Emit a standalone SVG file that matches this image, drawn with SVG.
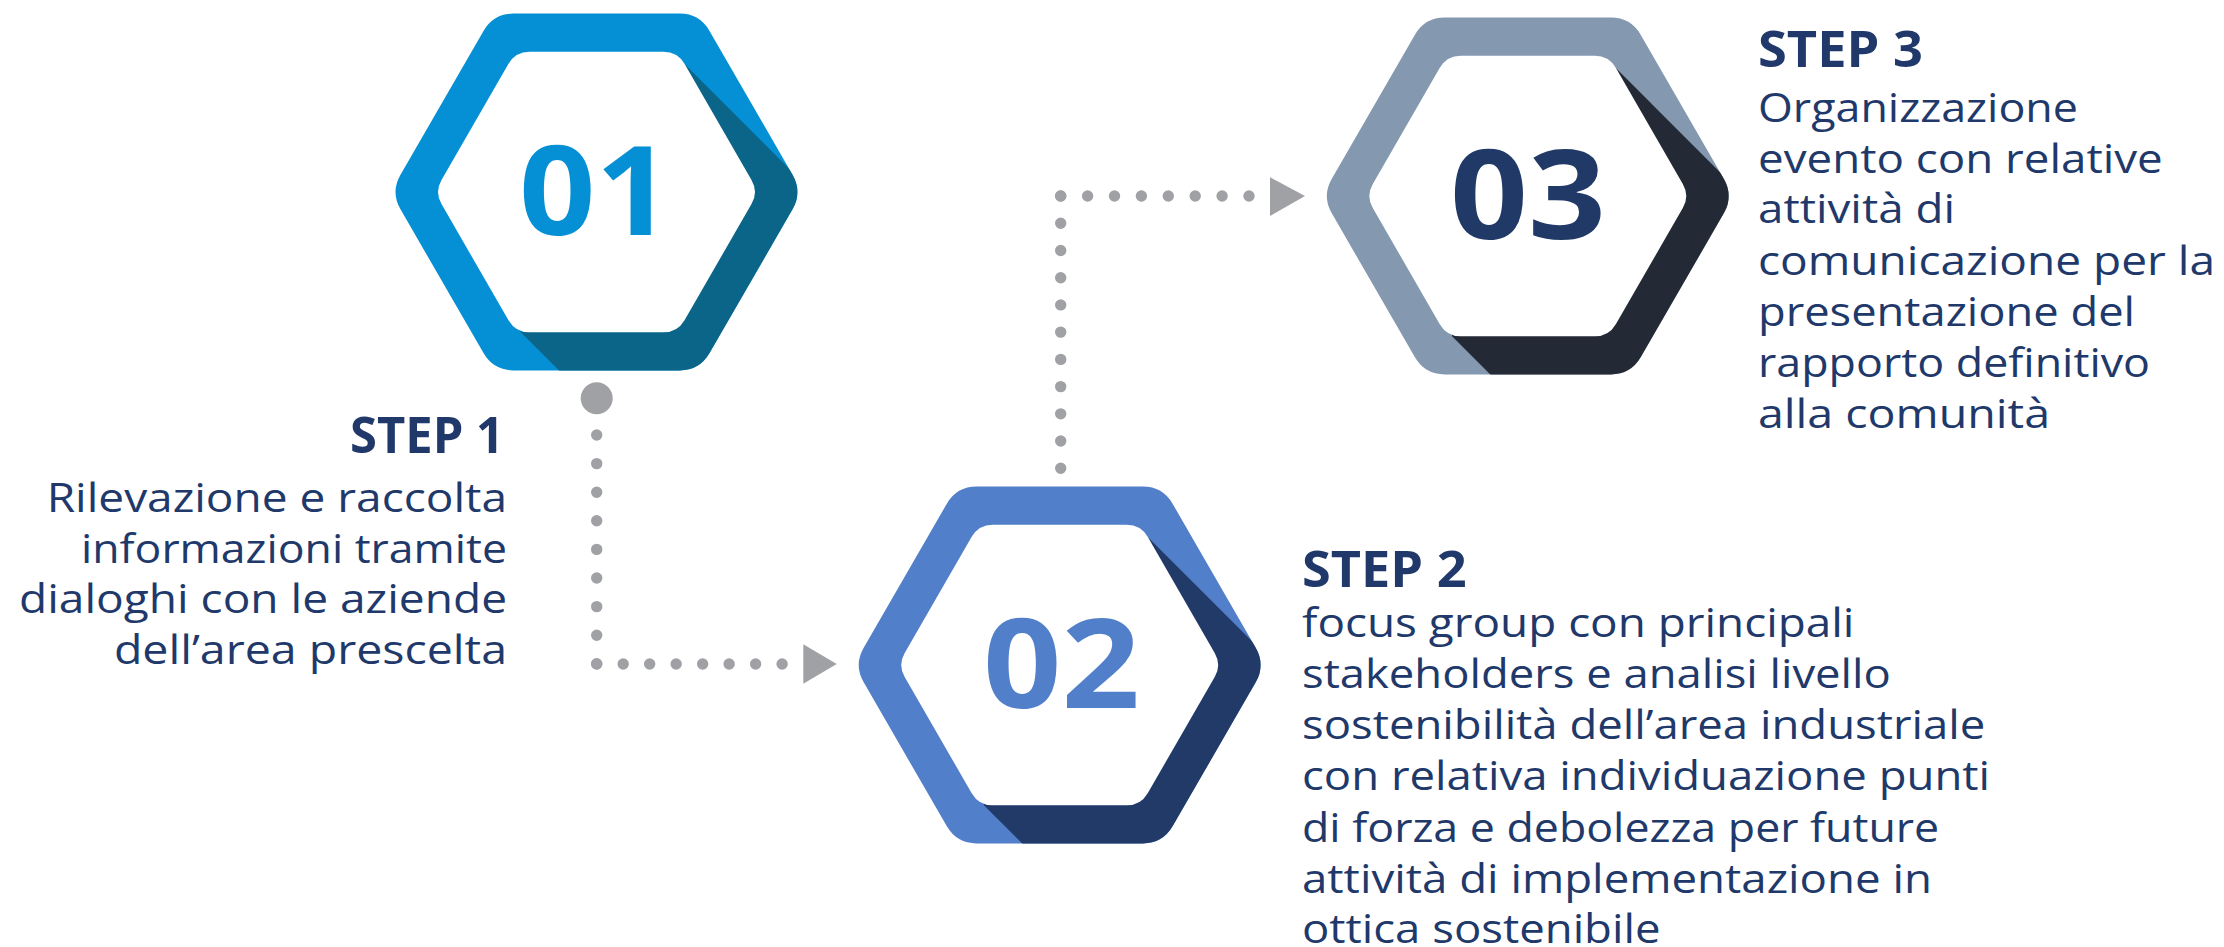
<svg xmlns="http://www.w3.org/2000/svg" xmlns:xlink="http://www.w3.org/1999/xlink" width="2224" height="947" viewBox="0 0 2224 947">
<style>
.step{font-family:"Open Sans","Liberation Sans",sans-serif;font-weight:700;font-size:51px;fill:#21396A}
.body{font-family:"Open Sans","Liberation Sans",sans-serif;font-weight:400;font-size:40px;fill:#21396A}
.num{font-family:"Open Sans","Liberation Sans",sans-serif;font-weight:700;font-size:124px}
.dots{fill:none;stroke:#A0A1A5;stroke-width:11.4;stroke-linecap:round}
.arrow{fill:#A0A1A5}
</style>
<defs>
<path id="hexOuter" d="M196,-17.32 Q206,0 196,17.32 L113,161.08 Q103,178.4 83,178.4 L-83,178.4 Q-103,178.4 -113,161.08 L-196,17.32 Q-206,0 -196,-17.32 L-113,-161.08 Q-103,-178.4 -83,-178.4 L83,-178.4 Q103,-178.4 113,-161.08 Z"/>
<path id="hexInner" d="M155,-12.12 Q162,0 155,12.12 L88,128.18 Q81,140.3 67,140.3 L-67,140.3 Q-81,140.3 -88,128.18 L-155,12.12 Q-162,0 -155,-12.12 L-88,-128.18 Q-81,-140.3 -67,-140.3 L67,-140.3 Q81,-140.3 88,-128.18 Z"/>
<polygon id="shadow" points="86,-130 486,270 324,540 -76,140 0,0"/>
<clipPath id="clipOuter"><use xlink:href="#hexOuter"/></clipPath>
</defs>
<rect width="2224" height="947" fill="#fff"/>

<g id="connectors">
<circle cx="596.7" cy="398.3" r="16" fill="#A0A1A5"/>
<line class="dots" x1="596.7" y1="435" x2="596.7" y2="664.3" style="stroke-dasharray:0 28.6"/>
<line class="dots" x1="596.7" y1="664" x2="782.6" y2="664" style="stroke-dasharray:0 26.486"/>
<polygon class="arrow" points="803.3,644.3 836.7,664 803.3,683.7"/>
<line class="dots" x1="1060.7" y1="468.3" x2="1060.7" y2="195.5" style="stroke-dasharray:0 27.23"/>
<line class="dots" x1="1060.7" y1="196" x2="1249.5" y2="196" style="stroke-dasharray:0 26.9"/>
<polygon class="arrow" points="1270,177.3 1305,196 1270,216"/>
</g>

<g id="node-01" transform="translate(596.5,192)">
<use xlink:href="#hexOuter" fill="#0590D5"/>
<use xlink:href="#shadow" fill="#0A6588" clip-path="url(#clipOuter)"/>
<use xlink:href="#hexInner" fill="#fff"/>
<text class="num" x="-77.5" y="43" textLength="153" lengthAdjust="spacingAndGlyphs" fill="#0590D5">01</text>
</g>

<g id="node-02" transform="translate(1059.7,665)">
<use xlink:href="#hexOuter" fill="#527FC9"/>
<use xlink:href="#shadow" fill="#213A68" clip-path="url(#clipOuter)"/>
<use xlink:href="#hexInner" fill="#fff"/>
<text class="num" x="-76.7" y="43" textLength="157" lengthAdjust="spacingAndGlyphs" fill="#527FC9">02</text>
</g>

<g id="node-03" transform="translate(1527.8,196)">
<use xlink:href="#hexOuter" fill="#8498B0"/>
<use xlink:href="#shadow" fill="#232A35" clip-path="url(#clipOuter)"/>
<use xlink:href="#hexInner" fill="#fff"/>
<text class="num" x="-77.8" y="43" textLength="156" lengthAdjust="spacingAndGlyphs" fill="#213966">03</text>
</g>

<g id="label-step1">
<text class="step" x="350" y="453.3" textLength="154" lengthAdjust="spacingAndGlyphs">STEP 1</text>
<text class="body" x="46.7" y="512" textLength="460.3" lengthAdjust="spacingAndGlyphs">Rilevazione e raccolta</text>
<text class="body" x="81" y="562.5" textLength="426" lengthAdjust="spacingAndGlyphs">informazioni tramite</text>
<text class="body" x="19" y="613.3" textLength="488" lengthAdjust="spacingAndGlyphs">dialoghi con le aziende</text>
<text class="body" x="113.9" y="664" textLength="393.1" lengthAdjust="spacingAndGlyphs">dell’area prescelta</text>
</g>

<g id="label-step2">
<text class="step" x="1302" y="586.7" textLength="164.6" lengthAdjust="spacingAndGlyphs">STEP 2</text>
<text class="body" x="1302" y="636.7" textLength="552.4" lengthAdjust="spacingAndGlyphs">focus group con principali</text>
<text class="body" x="1302" y="688.3" textLength="588.8" lengthAdjust="spacingAndGlyphs">stakeholders e analisi livello</text>
<text class="body" x="1302" y="739.3" textLength="683.3" lengthAdjust="spacingAndGlyphs">sostenibilità dell’area industriale</text>
<text class="body" x="1302" y="790" textLength="688" lengthAdjust="spacingAndGlyphs">con relativa individuazione punti</text>
<text class="body" x="1302" y="841.7" textLength="637.2" lengthAdjust="spacingAndGlyphs">di forza e debolezza per future</text>
<text class="body" x="1302" y="893.3" textLength="630" lengthAdjust="spacingAndGlyphs">attività di implementazione in</text>
<text class="body" x="1302" y="943.3" textLength="358.5" lengthAdjust="spacingAndGlyphs">ottica sostenibile</text>
</g>

<g id="label-step3">
<text class="step" x="1758" y="66.7" textLength="165" lengthAdjust="spacingAndGlyphs">STEP 3</text>
<text class="body" x="1758" y="121.7" textLength="320" lengthAdjust="spacingAndGlyphs">Organizzazione</text>
<text class="body" x="1758" y="172.7" textLength="404.7" lengthAdjust="spacingAndGlyphs">evento con relative</text>
<text class="body" x="1758" y="223.3" textLength="197" lengthAdjust="spacingAndGlyphs">attività di</text>
<text class="body" x="1758" y="275" textLength="457" lengthAdjust="spacingAndGlyphs">comunicazione per la</text>
<text class="body" x="1758" y="326" textLength="377" lengthAdjust="spacingAndGlyphs">presentazione del</text>
<text class="body" x="1758" y="377.3" textLength="392" lengthAdjust="spacingAndGlyphs">rapporto definitivo</text>
<text class="body" x="1758" y="428.3" textLength="292" lengthAdjust="spacingAndGlyphs">alla comunità</text>
</g>
</svg>
